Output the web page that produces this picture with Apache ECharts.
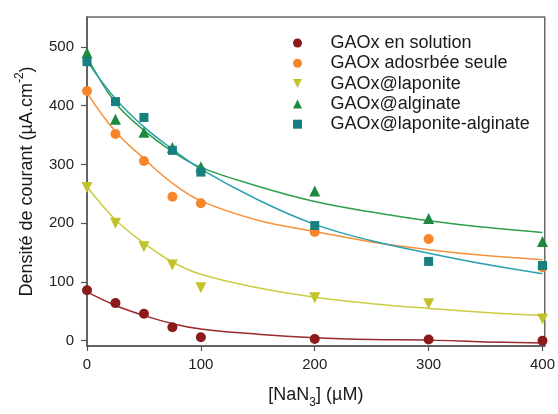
<!DOCTYPE html>
<html>
<head>
<meta charset="utf-8">
<script src="https://cdn.jsdelivr.net/npm/echarts@6/dist/echarts.min.js"></script>
<style>html,body{margin:0;padding:0;background:#fff}#c{width:558px;height:414px}</style>
</head>
<body>
<div id="c"></div>
<script>
// Measured concentrations [NaN3] (µM)
const xPoints = [0, 25, 50, 75, 100, 200, 300, 400];
const solution   = [86, 64, 46, 23, 6, 3, 2, 0];
const adsorbee   = [425, 352, 306, 245, 234, 185, 173, 125];
const laponite   = [261, 200, 160, 129, 90, 73, 63, 37];
const alginate   = [490, 377, 355, 329, 296, 255, 208, 169];
const lapAlg     = [475, 407, 380, 324, 287, 196, 135, 128];

// Fitted curves
const xFit = [0, 25, 50, 75, 100, 150, 200, 250, 300, 350, 400];
const fitSolution = [83, 60, 43, 29, 20, 11, 5, 2, 1, -2, -4];
const fitAdsorbee = [422, 356, 310, 268, 238, 205, 186, 168, 155, 145, 138];
const fitLaponite = [262, 206, 166, 134, 113, 90, 74, 63, 55, 48, 43];
const fitAlginate = [483, 405, 358, 322, 295, 263, 237, 219, 204, 193, 184];
const fitLapAlg   = [476, 412, 364, 326, 292, 240, 198, 170, 149, 130, 114];

const yTicks = [0, 100, 200, 300, 400, 500];
const xTicks = [0, 100, 200, 300, 400];

const names = ['GAOx en solution', 'GAOx adosrbée seule', 'GAOx@laponite', 'GAOx@alginate', 'GAOx@laponite-alginate'];
const pointColors = ['#8a1a1c', '#f7862a', '#c2c22c', '#1e8a3e', '#17807f'];
const lineColors  = ['#9a2a2c', '#f7903a', '#cccc44', '#2e9e4a', '#2a9fb0'];
const symbols = ['circle', 'circle', 'triangle', 'triangle', 'rect'];
const rotates = [0, 0, 180, 0, 0];
const sizes = [10, 10, 11, 11, 9];
const icons = [
  'path://M5,0A5,5 0 1,1 5,10A5,5 0 1,1 5,0Z',
  'path://M5,0A5,5 0 1,1 5,10A5,5 0 1,1 5,0Z',
  'path://M0,0L10,0L5,10Z',
  'path://M5,0L10,10L0,10Z',
  'path://M0,0H10V10H0Z'
];
const pts = [solution, adsorbee, laponite, alginate, lapAlg];
const fits = [fitSolution, fitAdsorbee, fitLaponite, fitAlginate, fitLapAlg];

const FONT = '"Liberation Sans", Arial, sans-serif';
const series = [];
fits.forEach((f, i) => {
  series.push({
    type: 'line', name: 'fit' + i, data: xFit.map((x, k) => [x, f[k]]),
    smooth: 0.4, showSymbol: false, symbol: 'none', clip: false, silent: true,
    lineStyle: {color: lineColors[i], width: 1.5}, z: 2
  });
});
pts.forEach((p, i) => {
  series.push({
    type: 'scatter', name: names[i], data: xPoints.map((x, k) => [x, p[k]]),
    symbol: symbols[i], symbolRotate: rotates[i], symbolSize: sizes[i], clip: false,
    itemStyle: {color: pointColors[i], opacity: 1}, z: 3
  });
});

const chart = echarts.init(document.getElementById('c'), null, {renderer: 'canvas'});
chart.setOption({
  animation: false,
  backgroundColor: '#fff',
  textStyle: {fontFamily: FONT},
  grid: {left: 87, top: 17, right: 11, bottom: 66, show: true, borderColor: '#6a6a6a', borderWidth: 1.5, backgroundColor: 'transparent'},
  legend: {
    orient: 'vertical', left: 288, top: 28, itemWidth: 56, itemHeight: 9, itemGap: 0.3,
    data: names.map((n, i) => ({name: n, icon: icons[i], itemStyle: {color: pointColors[i]}})),
    textStyle: {fontFamily: FONT, fontSize: 18, color: '#1a1a1a', lineHeight: 20, padding: 0},
    selectedMode: false
  },
  xAxis: {
    type: 'value', min: 0, max: 402,
    name: '[NaN{sub|3}] (µM)', nameLocation: 'middle', nameGap: 39,
    nameTextStyle: {fontFamily: FONT, fontSize: 18, color: '#1a1a1a', lineHeight: 20,
      rich: {sub: {fontSize: 12, lineHeight: 12, verticalAlign: 'bottom', padding: [0, 0, -4, 0], fontFamily: FONT, color: '#1a1a1a'}}},
    axisLine: {onZero: false, lineStyle: {color: '#555', width: 1.5}},
    axisTick: {show: true, inside: false, length: 5, customValues: xTicks, lineStyle: {color: '#555', width: 1.2}},
    axisLabel: {customValues: xTicks, fontFamily: FONT, fontSize: 15, color: '#222', margin: 11},
    splitLine: {show: false}
  },
  yAxis: {
    type: 'value', min: -9, max: 551,
    name: 'Densité de courant (µA.cm{sup|-2})', nameLocation: 'middle', nameGap: 50, nameRotate: 90,
    nameTextStyle: {fontFamily: FONT, fontSize: 18, color: '#1a1a1a', lineHeight: 20,
      rich: {sup: {fontSize: 12, lineHeight: 12, verticalAlign: 'top', padding: [-3, 0, 0, 0], fontFamily: FONT, color: '#1a1a1a'}}},
    axisLine: {show: true, onZero: false, lineStyle: {color: '#555', width: 1.5}},
    axisTick: {show: true, inside: false, length: 6, customValues: yTicks, lineStyle: {color: '#555', width: 1.2}},
    axisLabel: {customValues: yTicks, fontFamily: FONT, fontSize: 15, color: '#222', margin: 13},
    splitLine: {show: false}
  },
  series: series
});
</script>
</body>
</html>
